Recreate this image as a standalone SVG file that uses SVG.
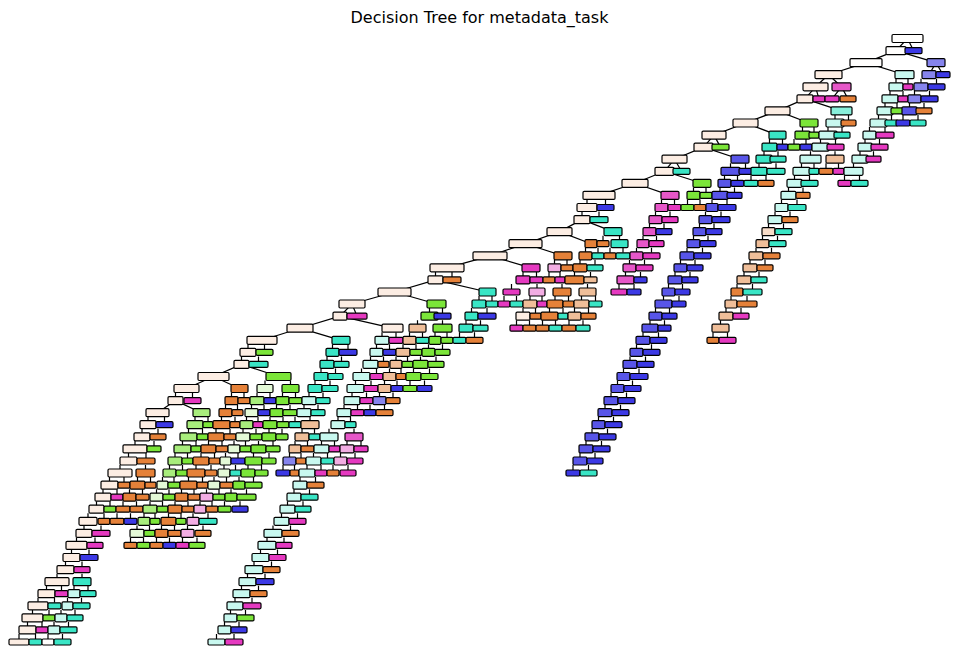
<svg xmlns="http://www.w3.org/2000/svg" width="959" height="658" viewBox="0 0 959 658">
<style>
#tree rect{stroke:#000;stroke-width:1.2px;rx:1.2px;ry:1.2px}
#edges path{stroke:#000;stroke-width:1.2px;fill:none}
.title{font-family:"DejaVu Sans","Liberation Sans",sans-serif;font-size:16px;fill:#000}
.w{fill:#fffefd}.o3{fill:#fcede3}.o2{fill:#f7dcc8}.o1{fill:#efbe99}.o{fill:#e58139}
.g{fill:#7be539}.g1{fill:#a8ed7c}.g2{fill:#e4f9d7}
.c{fill:#39e5c5}.c1{fill:#88efdb}.c2{fill:#c8f8ef}
.b{fill:#3c39e5}.b1{fill:#5855e8}.b2{fill:#8684ed}
.m{fill:#e539c0}.m1{fill:#e657c8}.m2{fill:#f2ade3}
</style>
<rect width="959" height="658" fill="#fff"/>
<text class="title" x="479.5" y="22.5" text-anchor="middle">Decision Tree for metadata_task</text>
<g id="edges">
<path d="M907.5 38.5L896 50.6M907.5 38.5L913.5 50.6M896 50.6L866 62.6M896 50.6L936 62.6M866 62.6L828.5 74.7M866 62.6L904.5 74.7M936 62.6L929 74.7M936 62.6L943 74.7M828.5 74.7L815.5 86.8M828.5 74.7L841.5 86.8M815.5 86.8L805 98.9M815.5 86.8L819 98.9M841.5 86.8L832 98.9M841.5 86.8L848 98.9M805 98.9L777.5 110.9M805 98.9L841.5 110.9M777.5 110.9L745.5 123M777.5 110.9L809 123M745.5 123L714 135.1M745.5 123L777.5 135.1M714 135.1L703.5 147.1M714 135.1L720.5 147.1M703.5 147.1L674.5 159.2M703.5 147.1L740 159.2M674.5 159.2L664.5 171.3M674.5 159.2L681.5 171.3M664.5 171.3L635 183.3M664.5 171.3L702 183.3M635 183.3L599 195.4M635 183.3L670 195.4M582 219.6L559.5 231.6M582 219.6L613 231.6M559.5 231.6L525.5 243.7M559.5 231.6L591 243.7M525.5 243.7L490 255.8M525.5 243.7L563 255.8M490 255.8L447 267.8M490 255.8L531 267.8M435.5 279.9L394.5 292M435.5 279.9L487.5 292M394.5 292L352 304M394.5 292L436.5 304M352 304L340 316.1M352 304L357 316.1M340 316.1L300 328.2M340 316.1L392.5 328.2M300 328.2L262 340.3M300 328.2L341 340.3M241.5 364.4L213.5 376.5M241.5 364.4L278.5 376.5M213.5 376.5L186.5 388.5M213.5 376.5L239.5 388.5M175.5 400.6L157.5 412.7M175.5 400.6L201.5 412.7"/>
<path d="M896 83.8v-5M908 83.8v-5M921 83.8v-5M936.5 83.8v-5
M890 95.9v-5M903 95.9v-5M914.5 95.9v-5M929.5 95.9v-5
M885 107.9v-5M897 107.9v-5M909.5 107.9v-5M924 107.9v-5
M835 120v-5M848.5 120v-5M878.5 120v-5M891.5 120v-5M903 120v-5M918 120v-5
M802.5 132.1v-5M814 132.1v-5M828 132.1v-5M842 132.1v-5M869.5 132.1v-5M885 132.1v-5
M769.5 144.1v-5M782.5 144.1v-5M794 144.1v-5M806 144.1v-5M820.5 144.1v-5M835.5 144.1v-5M865 144.1v-5M879.5 144.1v-5
M764 156.2v-5M778 156.2v-5M810.5 156.2v-5M835 156.2v-5M860 156.2v-5M873.5 156.2v-5
M730.5 168.3v-5M745.5 168.3v-5M759 168.3v-5M776 168.3v-5M801.5 168.3v-5M814 168.3v-5M826 168.3v-5M838.5 168.3v-5M853.5 168.3v-5
M724.5 180.3v-5M737.5 180.3v-5M751 180.3v-5M766 180.3v-5M794.5 180.3v-5M809.5 180.3v-5M844.5 180.3v-5M859.5 180.3v-5
M693.5 192.4v-5M706 192.4v-5M720 192.4v-5M734.5 192.4v-5M788.5 192.4v-5M803 192.4v-5
M587 204.5v-5M605.5 204.5v-5M661.5 204.5v-5M674.5 204.5v-5M687.5 204.5v-5M700 204.5v-5M712 204.5v-5M727 204.5v-5M781.5 204.5v-5M797 204.5v-5
M582 216.6v-5M599 216.6v-5M655.5 216.6v-5M670 216.6v-5M705.5 216.6v-5M721 216.6v-5M775 216.6v-5M790 216.6v-5
M649.5 228.6v-5M664 228.6v-5M699.5 228.6v-5M714 228.6v-5M768.5 228.6v-5M783.5 228.6v-5
M603 240.7v-5M619.5 240.7v-5M643 240.7v-5M656.5 240.7v-5M693.5 240.7v-5M708 240.7v-5M762.5 240.7v-5M777.5 240.7v-5
M585.5 252.8v-5M598 252.8v-5M610 252.8v-5M623 252.8v-5M636.5 252.8v-5M651.5 252.8v-5M687 252.8v-5M702.5 252.8v-5M756 252.8v-5M771.5 252.8v-5
M554.5 264.8v-5M567 264.8v-5M580 264.8v-5M595 264.8v-5M629.5 264.8v-5M644.5 264.8v-5M680.5 264.8v-5M695 264.8v-5M750 264.8v-5M765 264.8v-5
M435.5 276.9v-5M452 276.9v-5M523 276.9v-5M536.5 276.9v-5M549 276.9v-5M560 276.9v-5M574.5 276.9v-5M590.5 276.9v-5M625.5 276.9v-5M640.5 276.9v-5M675 276.9v-5M690 276.9v-5M744 276.9v-5M759 276.9v-5
M511.5 289v-5M537 289v-5M562 289v-5M587.5 289v-5M619 289v-5M634 289v-5M668.5 289v-5M682.5 289v-5M737 289v-5M752.5 289v-5
M479 301v-5M492 301v-5M504 301v-5M516.5 301v-5M530 301v-5M542 301v-5M555 301v-5M568.5 301v-5M581.5 301v-5M595.5 301v-5M663.5 301v-5M679 301v-5M731 301v-5M747 301v-5
M429.5 313.1v-5M442.5 313.1v-5M471.5 313.1v-5M487 313.1v-5M523 313.1v-5M535.5 313.1v-5M549.5 313.1v-5M563 313.1v-5M574.5 313.1v-5M588.5 313.1v-5M655.5 313.1v-5M669.5 313.1v-5M726 313.1v-5M741 313.1v-5
M417.5 325.2v-5M442.5 325.2v-5M466 325.2v-5M480.5 325.2v-5M516.5 325.2v-5M529.5 325.2v-5M542.5 325.2v-5M555.5 325.2v-5M569 325.2v-5M583 325.2v-5M650 325.2v-5M664.5 325.2v-5M720.5 325.2v-5
M382 337.3v-5M396 337.3v-5M409.5 337.3v-5M422.5 337.3v-5M435 337.3v-5M447 337.3v-5M459.5 337.3v-5M474.5 337.3v-5M643 337.3v-5M658.5 337.3v-5M713 337.3v-5M727.5 337.3v-5
M248 349.3v-5M264.5 349.3v-5M332.5 349.3v-5M348 349.3v-5M376.5 349.3v-5M389.5 349.3v-5M403 349.3v-5M416 349.3v-5M428.5 349.3v-5M442.5 349.3v-5M636.5 349.3v-5M651.5 349.3v-5
M241.5 361.4v-5M258.5 361.4v-5M327 361.4v-5M341.5 361.4v-5M370.5 361.4v-5M383.5 361.4v-5M396 361.4v-5M407.5 361.4v-5M420.5 361.4v-5M436 361.4v-5M630 361.4v-5M645.5 361.4v-5
M321 373.5v-5M335.5 373.5v-5M361.5 373.5v-5M376.5 373.5v-5M389.5 373.5v-5M401 373.5v-5M413.5 373.5v-5M429.5 373.5v-5M623.5 373.5v-5M639 373.5v-5
M265 385.5v-5M290.5 385.5v-5M315 385.5v-5M330 385.5v-5M355.5 385.5v-5M371 385.5v-5M384.5 385.5v-5M397 385.5v-5M410 385.5v-5M424.5 385.5v-5M617.5 385.5v-5M632.5 385.5v-5
M175.5 397.6v-5M192.5 397.6v-5M231.5 397.6v-5M244 397.6v-5M257 397.6v-5M270 397.6v-5M282.5 397.6v-5M295.5 397.6v-5M309 397.6v-5M323 397.6v-5M352 397.6v-5M366.5 397.6v-5M379.5 397.6v-5M393 397.6v-5M611 397.6v-5M626.5 397.6v-5
M225.5 409.7v-5M237.5 409.7v-5M251.5 409.7v-5M264 409.7v-5M276.5 409.7v-5M290 409.7v-5M304 409.7v-5M318 409.7v-5M344 409.7v-5M357.5 409.7v-5M370 409.7v-5M384.5 409.7v-5M605 409.7v-5M620.5 409.7v-5
M148 421.7v-5M164.5 421.7v-5M195 421.7v-5M208 421.7v-5M221.5 421.7v-5M235 421.7v-5M246.5 421.7v-5M258 421.7v-5M270 421.7v-5M283 421.7v-5M295 421.7v-5M310 421.7v-5M338 421.7v-5M350.5 421.7v-5M598.5 421.7v-5M613.5 421.7v-5
M142 433.8v-5M158 433.8v-5M188.5 433.8v-5M202.5 433.8v-5M216 433.8v-5M230 433.8v-5M243 433.8v-5M256 433.8v-5M269 433.8v-5M282 433.8v-5M302 433.8v-5M314.5 433.8v-5M329 433.8v-5M354 433.8v-5M592 433.8v-5M607.5 433.8v-5
M135 445.9v-5M154 445.9v-5M182.5 445.9v-5M196 445.9v-5M208.5 445.9v-5M222 445.9v-5M234 445.9v-5M245.5 445.9v-5M258.5 445.9v-5M273 445.9v-5M295 445.9v-5M307.5 445.9v-5M321.5 445.9v-5M334.5 445.9v-5M347 445.9v-5M361 445.9v-5M586 445.9v-5M601.5 445.9v-5
M128.5 458v-5M146 458v-5M175 458v-5M187.5 458v-5M201 458v-5M214.5 458v-5M225.5 458v-5M238 458v-5M253.5 458v-5M269 458v-5M289.5 458v-5M301 458v-5M313.5 458v-5M327.5 458v-5M340.5 458v-5M355 458v-5M580 458v-5M595 458v-5
M120 470v-5M145.5 470v-5M169.5 470v-5M182.5 470v-5M196 470v-5M211 470v-5M224 470v-5M235.5 470v-5M248 470v-5M261.5 470v-5M283 470v-5M294.5 470v-5M307 470v-5M321 470v-5M333 470v-5M348 470v-5M573 470v-5M588.5 470v-5
M109.5 482.1v-5M124 482.1v-5M137.5 482.1v-5M150.5 482.1v-5M162.5 482.1v-5M174 482.1v-5M188.5 482.1v-5M202.5 482.1v-5M214 482.1v-5M226.5 482.1v-5M239 482.1v-5M253.5 482.1v-5M300 482.1v-5M315.5 482.1v-5
M103 494.2v-5M117 494.2v-5M129.5 494.2v-5M142.5 494.2v-5M156.5 494.2v-5M169 494.2v-5M181.5 494.2v-5M194 494.2v-5M206.5 494.2v-5M219 494.2v-5M231 494.2v-5M246.5 494.2v-5M294 494.2v-5M309.5 494.2v-5
M96.5 506.2v-5M110 506.2v-5M123 506.2v-5M136.5 506.2v-5M150 506.2v-5M162.5 506.2v-5M175 506.2v-5M188 506.2v-5M200 506.2v-5M212 506.2v-5M224.5 506.2v-5M240 506.2v-5M287.5 506.2v-5M303 506.2v-5
M88 518.3v-5M104 518.3v-5M117 518.3v-5M130.5 518.3v-5M144 518.3v-5M155 518.3v-5M168.5 518.3v-5M181 518.3v-5M193 518.3v-5M208 518.3v-5M281.5 518.3v-5M297.5 518.3v-5
M84 530.4v-5M101 530.4v-5M137 530.4v-5M149.5 530.4v-5M161.5 530.4v-5M174.5 530.4v-5M187.5 530.4v-5M203 530.4v-5M273 530.4v-5M290.5 530.4v-5
M76.5 542.4v-5M95 542.4v-5M130.5 542.4v-5M143.5 542.4v-5M156.5 542.4v-5M169.5 542.4v-5M182.5 542.4v-5M197 542.4v-5M267 542.4v-5M284 542.4v-5
M71.5 554.5v-5M89 554.5v-5M260.5 554.5v-5M277.5 554.5v-5
M65.5 566.6v-5M82 566.6v-5M254 566.6v-5M271.5 566.6v-5
M57 578.7v-5M82 578.7v-5M247.5 578.7v-5M265 578.7v-5
M46.5 590.7v-5M61.5 590.7v-5M74 590.7v-5M88 590.7v-5M241.5 590.7v-5M258.5 590.7v-5
M38 602.8v-5M54.5 602.8v-5M67.5 602.8v-5M81.5 602.8v-5M235 602.8v-5M252 602.8v-5
M32.5 614.9v-5M49 614.9v-5M61 614.9v-5M75 614.9v-5M230.5 614.9v-5M245.5 614.9v-5
M27.5 626.9v-5M42 626.9v-5M54 626.9v-5M68.5 626.9v-5M224.5 626.9v-5M239 626.9v-5
M19 639v-5M35.5 639v-5M48 639v-5M62.5 639v-5M216.5 639v-5M234 639v-5"/>
</g>
<g id="tree">
<g transform="translate(0 38.5)">
<g id="n0_1"><rect class="w" x="892" y="-4" width="31" height="8"/></g>
</g>
<g transform="translate(0 50.6)">
<g id="n1_1"><rect class="w" x="886" y="-4" width="20" height="8"/></g>
<g id="n1_2"><rect class="b" x="905" y="-3" width="17" height="6"/></g>
</g>
<g transform="translate(0 62.6)">
<g id="n2_1"><rect class="w" x="850" y="-4" width="32" height="8"/></g>
<g id="n2_2"><rect class="b2" x="927" y="-4" width="18" height="8"/></g>
</g>
<g transform="translate(0 74.7)">
<g id="n3_1"><rect class="o3" x="815" y="-4" width="27" height="8"/></g>
<g id="n3_2"><rect class="c2" x="895" y="-4" width="19" height="8"/></g>
<g id="n3_3"><rect class="b2" x="922" y="-4" width="14" height="8"/></g>
<g id="n3_4"><rect class="b" x="936" y="-3" width="14" height="6"/></g>
</g>
<g transform="translate(0 86.8)">
<g id="n4_1"><rect class="o3" x="803" y="-4" width="25" height="8"/></g>
<g id="n4_2"><rect class="m1" x="832" y="-4" width="19" height="8"/></g>
<g id="n4_3"><rect class="c2" x="889" y="-4" width="14" height="8"/></g>
<g id="n4_4"><rect class="m" x="903" y="-3" width="10" height="6"/></g>
<g id="n4_5"><rect class="b2" x="914" y="-4" width="14" height="8"/></g>
<g id="n4_6"><rect class="b" x="928" y="-3" width="17" height="6"/></g>
</g>
<g transform="translate(0 98.9)">
<g id="n5_1"><rect class="o3" x="797" y="-4" width="16" height="8"/></g>
<g id="n5_2"><rect class="m" x="813" y="-3" width="12" height="6"/></g>
<g id="n5_3"><rect class="m" x="825" y="-3" width="14" height="6"/></g>
<g id="n5_4"><rect class="o" x="840" y="-3" width="16" height="6"/></g>
<g id="n5_5"><rect class="c2" x="882" y="-4" width="16" height="8"/></g>
<g id="n5_6"><rect class="m" x="898" y="-3" width="10" height="6"/></g>
<g id="n5_7"><rect class="b2" x="908" y="-4" width="13" height="8"/></g>
<g id="n5_8"><rect class="b" x="921" y="-3" width="17" height="6"/></g>
</g>
<g transform="translate(0 110.9)">
<g id="n6_1"><rect class="o3" x="765" y="-4" width="25" height="8"/></g>
<g id="n6_2"><rect class="c1" x="831" y="-4" width="21" height="8"/></g>
<g id="n6_3"><rect class="c2" x="877" y="-4" width="16" height="8"/></g>
<g id="n6_4"><rect class="g" x="891" y="-3" width="12" height="6"/></g>
<g id="n6_5"><rect class="b1" x="902" y="-4" width="15" height="8"/></g>
<g id="n6_6"><rect class="o" x="916" y="-3" width="16" height="6"/></g>
</g>
<g transform="translate(0 123)">
<g id="n7_1"><rect class="o3" x="733" y="-4" width="25" height="8"/></g>
<g id="n7_2"><rect class="g" x="800" y="-4" width="18" height="8"/></g>
<g id="n7_3"><rect class="c2" x="826" y="-4" width="18" height="8"/></g>
<g id="n7_4"><rect class="o" x="841" y="-3" width="15" height="6"/></g>
<g id="n7_5"><rect class="c2" x="870" y="-4" width="17" height="8"/></g>
<g id="n7_6"><rect class="c" x="885" y="-3" width="13" height="6"/></g>
<g id="n7_7"><rect class="b" x="896" y="-3" width="14" height="6"/></g>
<g id="n7_8"><rect class="c" x="910" y="-3" width="16" height="6"/></g>
</g>
<g transform="translate(0 135.1)">
<g id="n8_1"><rect class="o3" x="702" y="-4" width="24" height="8"/></g>
<g id="n8_2"><rect class="c" x="769" y="-4" width="17" height="8"/></g>
<g id="n8_3"><rect class="g" x="795" y="-4" width="15" height="8"/></g>
<g id="n8_4"><rect class="g" x="809" y="-3" width="10" height="6"/></g>
<g id="n8_5"><rect class="c2" x="819" y="-4" width="18" height="8"/></g>
<g id="n8_6"><rect class="c" x="834" y="-3" width="16" height="6"/></g>
<g id="n8_7"><rect class="c2" x="863" y="-4" width="13" height="8"/></g>
<g id="n8_8"><rect class="m" x="876" y="-3" width="18" height="6"/></g>
</g>
<g transform="translate(0 147.1)">
<g id="n9_1"><rect class="o3" x="694" y="-4" width="19" height="8"/></g>
<g id="n9_2"><rect class="g" x="712" y="-3" width="17" height="6"/></g>
<g id="n9_3"><rect class="c" x="762" y="-4" width="15" height="8"/></g>
<g id="n9_4"><rect class="b" x="777" y="-3" width="11" height="6"/></g>
<g id="n9_5"><rect class="g" x="788" y="-3" width="12" height="6"/></g>
<g id="n9_6"><rect class="b" x="800" y="-3" width="12" height="6"/></g>
<g id="n9_7"><rect class="c2" x="812" y="-4" width="17" height="8"/></g>
<g id="n9_8"><rect class="m" x="827" y="-3" width="17" height="6"/></g>
<g id="n9_9"><rect class="c2" x="858" y="-4" width="14" height="8"/></g>
<g id="n9_10"><rect class="m" x="871" y="-3" width="17" height="6"/></g>
</g>
<g transform="translate(0 159.2)">
<g id="n10_1"><rect class="o3" x="662" y="-4" width="25" height="8"/></g>
<g id="n10_2"><rect class="b1" x="731" y="-4" width="18" height="8"/></g>
<g id="n10_3"><rect class="c" x="756" y="-4" width="16" height="8"/></g>
<g id="n10_4"><rect class="c" x="770" y="-3" width="16" height="6"/></g>
<g id="n10_5"><rect class="c2" x="800" y="-4" width="21" height="8"/></g>
<g id="n10_6"><rect class="o1" x="826" y="-4" width="18" height="8"/></g>
<g id="n10_7"><rect class="c2" x="852" y="-4" width="16" height="8"/></g>
<g id="n10_8"><rect class="m" x="866" y="-3" width="15" height="6"/></g>
</g>
<g transform="translate(0 171.3)">
<g id="n11_1"><rect class="o3" x="655" y="-4" width="19" height="8"/></g>
<g id="n11_2"><rect class="c" x="673" y="-3" width="17" height="6"/></g>
<g id="n11_3"><rect class="b1" x="721" y="-4" width="19" height="8"/></g>
<g id="n11_4"><rect class="b" x="739" y="-3" width="13" height="6"/></g>
<g id="n11_5"><rect class="c" x="751" y="-4" width="16" height="8"/></g>
<g id="n11_6"><rect class="c" x="767" y="-3" width="18" height="6"/></g>
<g id="n11_7"><rect class="c2" x="793" y="-4" width="17" height="8"/></g>
<g id="n11_8"><rect class="c" x="809" y="-3" width="10" height="6"/></g>
<g id="n11_9"><rect class="o" x="819" y="-3" width="14" height="6"/></g>
<g id="n11_10"><rect class="m" x="833" y="-3" width="11" height="6"/></g>
<g id="n11_11"><rect class="c2" x="844" y="-4" width="19" height="8"/></g>
</g>
<g transform="translate(0 183.3)">
<g id="n12_1"><rect class="o3" x="622" y="-4" width="26" height="8"/></g>
<g id="n12_2"><rect class="g" x="693" y="-4" width="18" height="8"/></g>
<g id="n12_3"><rect class="b1" x="718" y="-4" width="13" height="8"/></g>
<g id="n12_4"><rect class="b" x="731" y="-3" width="13" height="6"/></g>
<g id="n12_5"><rect class="c" x="744" y="-3" width="14" height="6"/></g>
<g id="n12_6"><rect class="o" x="758" y="-3" width="16" height="6"/></g>
<g id="n12_7"><rect class="c2" x="787" y="-4" width="15" height="8"/></g>
<g id="n12_8"><rect class="c" x="801" y="-3" width="17" height="6"/></g>
<g id="n12_9"><rect class="m" x="838" y="-3" width="13" height="6"/></g>
<g id="n12_10"><rect class="c" x="851" y="-3" width="17" height="6"/></g>
</g>
<g transform="translate(0 195.4)">
<g id="n13_1"><rect class="o3" x="583" y="-4" width="32" height="8"/></g>
<g id="n13_2"><rect class="m1" x="661" y="-4" width="18" height="8"/></g>
<g id="n13_3"><rect class="g" x="687" y="-4" width="13" height="8"/></g>
<g id="n13_4"><rect class="g" x="700" y="-3" width="12" height="6"/></g>
<g id="n13_5"><rect class="b1" x="712" y="-4" width="16" height="8"/></g>
<g id="n13_6"><rect class="b" x="727" y="-3" width="15" height="6"/></g>
<g id="n13_7"><rect class="c2" x="781" y="-4" width="15" height="8"/></g>
<g id="n13_8"><rect class="o" x="796" y="-3" width="14" height="6"/></g>
</g>
<g transform="translate(0 207.5)">
<g id="n14_1"><rect class="o3" x="577" y="-4" width="20" height="8"/></g>
<g id="n14_2"><rect class="b" x="597" y="-3" width="17" height="6"/></g>
<g id="n14_3"><rect class="m1" x="655" y="-4" width="13" height="8"/></g>
<g id="n14_4"><rect class="m" x="668" y="-3" width="13" height="6"/></g>
<g id="n14_5"><rect class="g" x="681" y="-3" width="13" height="6"/></g>
<g id="n14_6"><rect class="o" x="694" y="-3" width="12" height="6"/></g>
<g id="n14_7"><rect class="b1" x="706" y="-4" width="12" height="8"/></g>
<g id="n14_8"><rect class="b" x="718" y="-3" width="18" height="6"/></g>
<g id="n14_9"><rect class="c2" x="775" y="-4" width="13" height="8"/></g>
<g id="n14_10"><rect class="c" x="788" y="-3" width="18" height="6"/></g>
</g>
<g transform="translate(0 219.6)">
<g id="n15_1"><rect class="o3" x="574" y="-4" width="16" height="8"/></g>
<g id="n15_2"><rect class="c" x="590" y="-3" width="18" height="6"/></g>
<g id="n15_3"><rect class="m1" x="649" y="-4" width="13" height="8"/></g>
<g id="n15_4"><rect class="m" x="662" y="-3" width="16" height="6"/></g>
<g id="n15_5"><rect class="b1" x="699" y="-4" width="13" height="8"/></g>
<g id="n15_6"><rect class="b" x="712" y="-3" width="18" height="6"/></g>
<g id="n15_7"><rect class="c2" x="768" y="-4" width="14" height="8"/></g>
<g id="n15_8"><rect class="o" x="782" y="-3" width="16" height="6"/></g>
</g>
<g transform="translate(0 231.6)">
<g id="n16_1"><rect class="o3" x="547" y="-4" width="25" height="8"/></g>
<g id="n16_2"><rect class="c" x="604" y="-4" width="18" height="8"/></g>
<g id="n16_3"><rect class="m1" x="643" y="-4" width="13" height="8"/></g>
<g id="n16_4"><rect class="b" x="656" y="-3" width="16" height="6"/></g>
<g id="n16_5"><rect class="b1" x="693" y="-4" width="13" height="8"/></g>
<g id="n16_6"><rect class="b" x="706" y="-3" width="16" height="6"/></g>
<g id="n16_7"><rect class="o2" x="762" y="-4" width="13" height="8"/></g>
<g id="n16_8"><rect class="c" x="775" y="-3" width="17" height="6"/></g>
</g>
<g transform="translate(0 243.7)">
<g id="n17_1"><rect class="o3" x="509" y="-4" width="33" height="8"/></g>
<g id="n17_2"><rect class="o" x="585" y="-4" width="12" height="8"/></g>
<g id="n17_3"><rect class="o" x="597" y="-3" width="12" height="6"/></g>
<g id="n17_4"><rect class="c" x="611" y="-4" width="17" height="8"/></g>
<g id="n17_5"><rect class="m1" x="637" y="-4" width="12" height="8"/></g>
<g id="n17_6"><rect class="m" x="649" y="-3" width="15" height="6"/></g>
<g id="n17_7"><rect class="b1" x="687" y="-4" width="13" height="8"/></g>
<g id="n17_8"><rect class="b" x="700" y="-3" width="16" height="6"/></g>
<g id="n17_9"><rect class="o1" x="756" y="-4" width="13" height="8"/></g>
<g id="n17_10"><rect class="c" x="769" y="-3" width="17" height="6"/></g>
</g>
<g transform="translate(0 255.8)">
<g id="n18_1"><rect class="o3" x="473" y="-4" width="34" height="8"/></g>
<g id="n18_2"><rect class="o" x="554" y="-4" width="18" height="8"/></g>
<g id="n18_3"><rect class="o" x="579" y="-4" width="13" height="8"/></g>
<g id="n18_4"><rect class="c" x="592" y="-3" width="12" height="6"/></g>
<g id="n18_5"><rect class="o" x="604" y="-3" width="12" height="6"/></g>
<g id="n18_6"><rect class="c" x="616" y="-3" width="14" height="6"/></g>
<g id="n18_7"><rect class="m1" x="630" y="-4" width="13" height="8"/></g>
<g id="n18_8"><rect class="m" x="643" y="-3" width="17" height="6"/></g>
<g id="n18_9"><rect class="b1" x="680" y="-4" width="14" height="8"/></g>
<g id="n18_10"><rect class="b" x="694" y="-3" width="17" height="6"/></g>
<g id="n18_11"><rect class="o1" x="749" y="-4" width="14" height="8"/></g>
<g id="n18_12"><rect class="o" x="763" y="-3" width="17" height="6"/></g>
</g>
<g transform="translate(0 267.8)">
<g id="n19_1"><rect class="o3" x="430" y="-4" width="34" height="8"/></g>
<g id="n19_2"><rect class="m" x="522" y="-4" width="18" height="8"/></g>
<g id="n19_3"><rect class="m2" x="548" y="-4" width="13" height="8"/></g>
<g id="n19_4"><rect class="o" x="561" y="-3" width="12" height="6"/></g>
<g id="n19_5"><rect class="o" x="573" y="-4" width="14" height="8"/></g>
<g id="n19_6"><rect class="c" x="587" y="-3" width="16" height="6"/></g>
<g id="n19_7"><rect class="m1" x="623" y="-4" width="13" height="8"/></g>
<g id="n19_8"><rect class="m" x="636" y="-3" width="17" height="6"/></g>
<g id="n19_9"><rect class="b1" x="674" y="-4" width="13" height="8"/></g>
<g id="n19_10"><rect class="b" x="687" y="-3" width="16" height="6"/></g>
<g id="n19_11"><rect class="o1" x="743" y="-4" width="14" height="8"/></g>
<g id="n19_12"><rect class="o" x="757" y="-3" width="16" height="6"/></g>
</g>
<g transform="translate(0 279.9)">
<g id="n20_1"><rect class="o3" x="428" y="-4" width="15" height="8"/></g>
<g id="n20_2"><rect class="o" x="443" y="-3" width="18" height="6"/></g>
<g id="n20_3"><rect class="m" x="516" y="-4" width="14" height="8"/></g>
<g id="n20_4"><rect class="m" x="530" y="-3" width="13" height="6"/></g>
<g id="n20_5"><rect class="o" x="543" y="-3" width="12" height="6"/></g>
<g id="n20_6"><rect class="m" x="555" y="-3" width="10" height="6"/></g>
<g id="n20_7"><rect class="o" x="565" y="-4" width="19" height="8"/></g>
<g id="n20_8"><rect class="o1" x="584" y="-3" width="13" height="6"/></g>
<g id="n20_9"><rect class="m1" x="617" y="-4" width="17" height="8"/></g>
<g id="n20_10"><rect class="b" x="634" y="-3" width="13" height="6"/></g>
<g id="n20_11"><rect class="b1" x="668" y="-4" width="14" height="8"/></g>
<g id="n20_12"><rect class="b" x="682" y="-3" width="16" height="6"/></g>
<g id="n20_13"><rect class="o1" x="737" y="-4" width="14" height="8"/></g>
<g id="n20_14"><rect class="c" x="751" y="-3" width="16" height="6"/></g>
</g>
<g transform="translate(0 292)">
<g id="n21_1"><rect class="o3" x="378" y="-4" width="33" height="8"/></g>
<g id="n21_2"><rect class="c" x="479" y="-4" width="17" height="8"/></g>
<g id="n21_3"><rect class="m" x="503" y="-3" width="17" height="6"/></g>
<g id="n21_4"><rect class="m2" x="529" y="-4" width="16" height="8"/></g>
<g id="n21_5"><rect class="o" x="553" y="-4" width="18" height="8"/></g>
<g id="n21_6"><rect class="o1" x="579" y="-4" width="17" height="8"/></g>
<g id="n21_7"><rect class="m" x="611" y="-3" width="16" height="6"/></g>
<g id="n21_8"><rect class="b" x="627" y="-3" width="14" height="6"/></g>
<g id="n21_9"><rect class="b1" x="662" y="-4" width="13" height="8"/></g>
<g id="n21_10"><rect class="b" x="675" y="-3" width="15" height="6"/></g>
<g id="n21_11"><rect class="o" x="731" y="-4" width="12" height="8"/></g>
<g id="n21_12"><rect class="c" x="743" y="-3" width="19" height="6"/></g>
</g>
<g transform="translate(0 304)">
<g id="n22_1"><rect class="o3" x="339" y="-4" width="26" height="8"/></g>
<g id="n22_2"><rect class="g" x="427" y="-4" width="19" height="8"/></g>
<g id="n22_3"><rect class="c" x="472" y="-4" width="14" height="8"/></g>
<g id="n22_4"><rect class="c" x="486" y="-3" width="12" height="6"/></g>
<g id="n22_5"><rect class="m" x="498" y="-3" width="12" height="6"/></g>
<g id="n22_6"><rect class="c" x="510" y="-3" width="13" height="6"/></g>
<g id="n22_7"><rect class="o1" x="523" y="-4" width="14" height="8"/></g>
<g id="n22_8"><rect class="m" x="537" y="-3" width="10" height="6"/></g>
<g id="n22_9"><rect class="o" x="547" y="-4" width="16" height="8"/></g>
<g id="n22_10"><rect class="o" x="563" y="-3" width="11" height="6"/></g>
<g id="n22_11"><rect class="o1" x="574" y="-4" width="15" height="8"/></g>
<g id="n22_12"><rect class="c" x="589" y="-3" width="13" height="6"/></g>
<g id="n22_13"><rect class="b1" x="655" y="-4" width="17" height="8"/></g>
<g id="n22_14"><rect class="b" x="672" y="-3" width="14" height="6"/></g>
<g id="n22_15"><rect class="o1" x="725" y="-4" width="12" height="8"/></g>
<g id="n22_16"><rect class="o" x="737" y="-3" width="20" height="6"/></g>
</g>
<g transform="translate(0 316.1)">
<g id="n23_1"><rect class="o3" x="333" y="-4" width="14" height="8"/></g>
<g id="n23_2"><rect class="m" x="347" y="-3" width="20" height="6"/></g>
<g id="n23_3"><rect class="g" x="421" y="-4" width="17" height="8"/></g>
<g id="n23_4"><rect class="b" x="434" y="-3" width="17" height="6"/></g>
<g id="n23_5"><rect class="c" x="465" y="-4" width="13" height="8"/></g>
<g id="n23_6"><rect class="b" x="478" y="-3" width="18" height="6"/></g>
<g id="n23_7"><rect class="o3" x="516" y="-4" width="14" height="8"/></g>
<g id="n23_8"><rect class="o" x="530" y="-3" width="11" height="6"/></g>
<g id="n23_9"><rect class="o" x="541" y="-4" width="17" height="8"/></g>
<g id="n23_10"><rect class="c" x="558" y="-3" width="10" height="6"/></g>
<g id="n23_11"><rect class="o1" x="568" y="-4" width="13" height="8"/></g>
<g id="n23_12"><rect class="o" x="581" y="-3" width="15" height="6"/></g>
<g id="n23_13"><rect class="b1" x="649" y="-4" width="13" height="8"/></g>
<g id="n23_14"><rect class="b" x="662" y="-3" width="15" height="6"/></g>
<g id="n23_15"><rect class="o1" x="719" y="-4" width="14" height="8"/></g>
<g id="n23_16"><rect class="m" x="733" y="-3" width="16" height="6"/></g>
</g>
<g transform="translate(0 328.2)">
<g id="n24_1"><rect class="o3" x="287" y="-4" width="26" height="8"/></g>
<g id="n24_2"><rect class="o3" x="382" y="-4" width="21" height="8"/></g>
<g id="n24_3"><rect class="o1" x="409" y="-4" width="17" height="8"/></g>
<g id="n24_4"><rect class="g" x="433" y="-4" width="19" height="8"/></g>
<g id="n24_5"><rect class="c" x="459" y="-4" width="14" height="8"/></g>
<g id="n24_6"><rect class="c" x="473" y="-3" width="15" height="6"/></g>
<g id="n24_7"><rect class="m" x="510" y="-3" width="13" height="6"/></g>
<g id="n24_8"><rect class="o" x="523" y="-3" width="13" height="6"/></g>
<g id="n24_9"><rect class="o" x="536" y="-3" width="13" height="6"/></g>
<g id="n24_10"><rect class="c" x="549" y="-3" width="13" height="6"/></g>
<g id="n24_11"><rect class="o" x="562" y="-3" width="14" height="6"/></g>
<g id="n24_12"><rect class="c" x="576" y="-3" width="14" height="6"/></g>
<g id="n24_13"><rect class="b1" x="642" y="-4" width="16" height="8"/></g>
<g id="n24_14"><rect class="b" x="658" y="-3" width="13" height="6"/></g>
<g id="n24_15"><rect class="o1" x="712" y="-4" width="17" height="8"/></g>
</g>
<g transform="translate(0 340.3)">
<g id="n25_1"><rect class="o3" x="247" y="-4" width="30" height="8"/></g>
<g id="n25_2"><rect class="c" x="332" y="-4" width="18" height="8"/></g>
<g id="n25_3"><rect class="c2" x="375" y="-4" width="14" height="8"/></g>
<g id="n25_4"><rect class="m" x="389" y="-3" width="14" height="6"/></g>
<g id="n25_5"><rect class="o1" x="403" y="-4" width="13" height="8"/></g>
<g id="n25_6"><rect class="c" x="416" y="-3" width="13" height="6"/></g>
<g id="n25_7"><rect class="g" x="429" y="-4" width="12" height="8"/></g>
<g id="n25_8"><rect class="g" x="441" y="-3" width="12" height="6"/></g>
<g id="n25_9"><rect class="c" x="453" y="-3" width="13" height="6"/></g>
<g id="n25_10"><rect class="o" x="466" y="-3" width="17" height="6"/></g>
<g id="n25_11"><rect class="b1" x="636" y="-4" width="14" height="8"/></g>
<g id="n25_12"><rect class="b" x="650" y="-3" width="17" height="6"/></g>
<g id="n25_13"><rect class="o" x="707" y="-3" width="12" height="6"/></g>
<g id="n25_14"><rect class="m" x="719" y="-3" width="17" height="6"/></g>
</g>
<g transform="translate(0 352.3)">
<g id="n26_1"><rect class="o3" x="240" y="-4" width="16" height="8"/></g>
<g id="n26_2"><rect class="g" x="256" y="-3" width="17" height="6"/></g>
<g id="n26_3"><rect class="c" x="326" y="-4" width="13" height="8"/></g>
<g id="n26_4"><rect class="b" x="339" y="-3" width="18" height="6"/></g>
<g id="n26_5"><rect class="c2" x="370" y="-4" width="13" height="8"/></g>
<g id="n26_6"><rect class="b" x="383" y="-3" width="13" height="6"/></g>
<g id="n26_7"><rect class="o1" x="396" y="-4" width="14" height="8"/></g>
<g id="n26_8"><rect class="g" x="410" y="-3" width="12" height="6"/></g>
<g id="n26_9"><rect class="g" x="422" y="-4" width="13" height="8"/></g>
<g id="n26_10"><rect class="g" x="435" y="-3" width="15" height="6"/></g>
<g id="n26_11"><rect class="b1" x="630" y="-4" width="13" height="8"/></g>
<g id="n26_12"><rect class="b" x="643" y="-3" width="17" height="6"/></g>
</g>
<g transform="translate(0 364.4)">
<g id="n27_1"><rect class="o3" x="234" y="-4" width="15" height="8"/></g>
<g id="n27_2"><rect class="c" x="249" y="-3" width="19" height="6"/></g>
<g id="n27_3"><rect class="c" x="320" y="-4" width="14" height="8"/></g>
<g id="n27_4"><rect class="c" x="334" y="-3" width="15" height="6"/></g>
<g id="n27_5"><rect class="c2" x="363" y="-4" width="15" height="8"/></g>
<g id="n27_6"><rect class="o" x="378" y="-3" width="11" height="6"/></g>
<g id="n27_7"><rect class="o1" x="390" y="-4" width="12" height="8"/></g>
<g id="n27_8"><rect class="g" x="402" y="-3" width="11" height="6"/></g>
<g id="n27_9"><rect class="g" x="413" y="-4" width="15" height="8"/></g>
<g id="n27_10"><rect class="g" x="428" y="-3" width="16" height="6"/></g>
<g id="n27_11"><rect class="b1" x="623" y="-4" width="14" height="8"/></g>
<g id="n27_12"><rect class="b" x="637" y="-3" width="17" height="6"/></g>
</g>
<g transform="translate(0 376.5)">
<g id="n28_1"><rect class="o3" x="198" y="-4" width="31" height="8"/></g>
<g id="n28_2"><rect class="g" x="266" y="-4" width="25" height="8"/></g>
<g id="n28_3"><rect class="c" x="314" y="-4" width="14" height="8"/></g>
<g id="n28_4"><rect class="c" x="328" y="-3" width="15" height="6"/></g>
<g id="n28_5"><rect class="c2" x="353" y="-4" width="17" height="8"/></g>
<g id="n28_6"><rect class="m" x="370" y="-3" width="13" height="6"/></g>
<g id="n28_7"><rect class="o1" x="383" y="-4" width="13" height="8"/></g>
<g id="n28_8"><rect class="o" x="396" y="-3" width="10" height="6"/></g>
<g id="n28_9"><rect class="g" x="406" y="-4" width="15" height="8"/></g>
<g id="n28_10"><rect class="g" x="421" y="-3" width="17" height="6"/></g>
<g id="n28_11"><rect class="b1" x="617" y="-4" width="13" height="8"/></g>
<g id="n28_12"><rect class="b" x="630" y="-3" width="18" height="6"/></g>
</g>
<g transform="translate(0 388.5)">
<g id="n29_1"><rect class="o3" x="174" y="-4" width="25" height="8"/></g>
<g id="n29_2"><rect class="o" x="231" y="-4" width="17" height="8"/></g>
<g id="n29_3"><rect class="g2" x="257" y="-4" width="16" height="8"/></g>
<g id="n29_4"><rect class="g" x="282" y="-4" width="17" height="8"/></g>
<g id="n29_5"><rect class="c" x="308" y="-4" width="14" height="8"/></g>
<g id="n29_6"><rect class="c" x="322" y="-3" width="16" height="6"/></g>
<g id="n29_7"><rect class="c2" x="347" y="-4" width="17" height="8"/></g>
<g id="n29_8"><rect class="m" x="364" y="-3" width="14" height="6"/></g>
<g id="n29_9"><rect class="o1" x="378" y="-4" width="13" height="8"/></g>
<g id="n29_10"><rect class="b" x="391" y="-3" width="12" height="6"/></g>
<g id="n29_11"><rect class="g" x="403" y="-3" width="14" height="6"/></g>
<g id="n29_12"><rect class="b" x="417" y="-3" width="15" height="6"/></g>
<g id="n29_13"><rect class="b1" x="611" y="-4" width="13" height="8"/></g>
<g id="n29_14"><rect class="b" x="624" y="-3" width="17" height="6"/></g>
</g>
<g transform="translate(0 400.6)">
<g id="n30_1"><rect class="o3" x="168" y="-4" width="15" height="8"/></g>
<g id="n30_2"><rect class="m" x="184" y="-3" width="17" height="6"/></g>
<g id="n30_3"><rect class="o" x="225" y="-4" width="13" height="8"/></g>
<g id="n30_4"><rect class="o" x="238" y="-3" width="12" height="6"/></g>
<g id="n30_5"><rect class="g1" x="250" y="-4" width="14" height="8"/></g>
<g id="n30_6"><rect class="b" x="264" y="-3" width="12" height="6"/></g>
<g id="n30_7"><rect class="g" x="276" y="-4" width="13" height="8"/></g>
<g id="n30_8"><rect class="g" x="289" y="-3" width="13" height="6"/></g>
<g id="n30_9"><rect class="c2" x="302" y="-4" width="14" height="8"/></g>
<g id="n30_10"><rect class="c" x="316" y="-3" width="14" height="6"/></g>
<g id="n30_11"><rect class="c2" x="344" y="-4" width="16" height="8"/></g>
<g id="n30_12"><rect class="m" x="360" y="-3" width="13" height="6"/></g>
<g id="n30_13"><rect class="b2" x="373" y="-4" width="13" height="8"/></g>
<g id="n30_14"><rect class="o" x="386" y="-3" width="14" height="6"/></g>
<g id="n30_15"><rect class="b1" x="604" y="-4" width="14" height="8"/></g>
<g id="n30_16"><rect class="b" x="618" y="-3" width="17" height="6"/></g>
</g>
<g transform="translate(0 412.7)">
<g id="n31_1"><rect class="o3" x="146" y="-4" width="23" height="8"/></g>
<g id="n31_2"><rect class="g1" x="193" y="-4" width="17" height="8"/></g>
<g id="n31_3"><rect class="o" x="219" y="-4" width="13" height="8"/></g>
<g id="n31_4"><rect class="o" x="232" y="-3" width="11" height="6"/></g>
<g id="n31_5"><rect class="g2" x="245" y="-4" width="13" height="8"/></g>
<g id="n31_6"><rect class="b" x="258" y="-3" width="12" height="6"/></g>
<g id="n31_7"><rect class="g" x="270" y="-4" width="13" height="8"/></g>
<g id="n31_8"><rect class="g" x="283" y="-3" width="14" height="6"/></g>
<g id="n31_9"><rect class="c2" x="297" y="-4" width="14" height="8"/></g>
<g id="n31_10"><rect class="c" x="311" y="-3" width="14" height="6"/></g>
<g id="n31_11"><rect class="c2" x="337" y="-4" width="14" height="8"/></g>
<g id="n31_12"><rect class="m" x="351" y="-3" width="13" height="6"/></g>
<g id="n31_13"><rect class="b" x="364" y="-3" width="12" height="6"/></g>
<g id="n31_14"><rect class="o" x="376" y="-3" width="17" height="6"/></g>
<g id="n31_15"><rect class="b1" x="598" y="-4" width="14" height="8"/></g>
<g id="n31_16"><rect class="b" x="612" y="-3" width="17" height="6"/></g>
</g>
<g transform="translate(0 424.7)">
<g id="n32_1"><rect class="o3" x="140" y="-4" width="16" height="8"/></g>
<g id="n32_2"><rect class="b" x="156" y="-3" width="17" height="6"/></g>
<g id="n32_3"><rect class="g1" x="187" y="-4" width="16" height="8"/></g>
<g id="n32_4"><rect class="g" x="203" y="-3" width="10" height="6"/></g>
<g id="n32_5"><rect class="o" x="213" y="-4" width="17" height="8"/></g>
<g id="n32_6"><rect class="o" x="230" y="-3" width="10" height="6"/></g>
<g id="n32_7"><rect class="g1" x="240" y="-4" width="13" height="8"/></g>
<g id="n32_8"><rect class="m" x="253" y="-3" width="10" height="6"/></g>
<g id="n32_9"><rect class="g" x="263" y="-4" width="14" height="8"/></g>
<g id="n32_10"><rect class="g" x="277" y="-3" width="12" height="6"/></g>
<g id="n32_11"><rect class="c" x="289" y="-3" width="12" height="6"/></g>
<g id="n32_12"><rect class="o1" x="301" y="-4" width="18" height="8"/></g>
<g id="n32_13"><rect class="c2" x="331" y="-4" width="14" height="8"/></g>
<g id="n32_14"><rect class="c" x="345" y="-3" width="11" height="6"/></g>
<g id="n32_15"><rect class="b1" x="592" y="-4" width="13" height="8"/></g>
<g id="n32_16"><rect class="b" x="605" y="-3" width="17" height="6"/></g>
</g>
<g transform="translate(0 436.8)">
<g id="n33_1"><rect class="o3" x="134" y="-4" width="16" height="8"/></g>
<g id="n33_2"><rect class="o" x="150" y="-3" width="16" height="6"/></g>
<g id="n33_3"><rect class="g1" x="180" y="-4" width="17" height="8"/></g>
<g id="n33_4"><rect class="g" x="197" y="-3" width="11" height="6"/></g>
<g id="n33_5"><rect class="o" x="208" y="-4" width="16" height="8"/></g>
<g id="n33_6"><rect class="o" x="224" y="-3" width="12" height="6"/></g>
<g id="n33_7"><rect class="g2" x="236" y="-4" width="14" height="8"/></g>
<g id="n33_8"><rect class="g" x="250" y="-3" width="12" height="6"/></g>
<g id="n33_9"><rect class="g" x="262" y="-4" width="14" height="8"/></g>
<g id="n33_10"><rect class="g" x="276" y="-3" width="12" height="6"/></g>
<g id="n33_11"><rect class="o1" x="295" y="-4" width="14" height="8"/></g>
<g id="n33_12"><rect class="c" x="309" y="-3" width="11" height="6"/></g>
<g id="n33_13"><rect class="c2" x="320" y="-4" width="18" height="8"/></g>
<g id="n33_14"><rect class="m1" x="345" y="-4" width="18" height="8"/></g>
<g id="n33_15"><rect class="b1" x="585" y="-4" width="14" height="8"/></g>
<g id="n33_16"><rect class="b" x="599" y="-3" width="17" height="6"/></g>
</g>
<g transform="translate(0 448.9)">
<g id="n34_1"><rect class="o3" x="123" y="-4" width="24" height="8"/></g>
<g id="n34_2"><rect class="g" x="147" y="-3" width="14" height="6"/></g>
<g id="n34_3"><rect class="g1" x="174" y="-4" width="17" height="8"/></g>
<g id="n34_4"><rect class="g" x="191" y="-3" width="10" height="6"/></g>
<g id="n34_5"><rect class="o" x="201" y="-4" width="15" height="8"/></g>
<g id="n34_6"><rect class="o" x="216" y="-3" width="12" height="6"/></g>
<g id="n34_7"><rect class="g2" x="228" y="-4" width="12" height="8"/></g>
<g id="n34_8"><rect class="g" x="240" y="-3" width="11" height="6"/></g>
<g id="n34_9"><rect class="g" x="251" y="-4" width="15" height="8"/></g>
<g id="n34_10"><rect class="g" x="266" y="-3" width="14" height="6"/></g>
<g id="n34_11"><rect class="o1" x="289" y="-4" width="12" height="8"/></g>
<g id="n34_12"><rect class="o" x="301" y="-3" width="13" height="6"/></g>
<g id="n34_13"><rect class="c2" x="314" y="-4" width="15" height="8"/></g>
<g id="n34_14"><rect class="m" x="329" y="-3" width="11" height="6"/></g>
<g id="n34_15"><rect class="m2" x="340" y="-4" width="14" height="8"/></g>
<g id="n34_16"><rect class="m" x="354" y="-3" width="14" height="6"/></g>
<g id="n34_17"><rect class="b1" x="579" y="-4" width="14" height="8"/></g>
<g id="n34_18"><rect class="b" x="593" y="-3" width="17" height="6"/></g>
</g>
<g transform="translate(0 461)">
<g id="n35_1"><rect class="o3" x="120" y="-4" width="17" height="8"/></g>
<g id="n35_2"><rect class="o" x="137" y="-3" width="18" height="6"/></g>
<g id="n35_3"><rect class="g1" x="168" y="-4" width="14" height="8"/></g>
<g id="n35_4"><rect class="g" x="182" y="-3" width="11" height="6"/></g>
<g id="n35_5"><rect class="o" x="193" y="-4" width="16" height="8"/></g>
<g id="n35_6"><rect class="o" x="209" y="-3" width="11" height="6"/></g>
<g id="n35_7"><rect class="g2" x="220" y="-4" width="11" height="8"/></g>
<g id="n35_8"><rect class="b" x="231" y="-3" width="14" height="6"/></g>
<g id="n35_9"><rect class="g" x="245" y="-4" width="17" height="8"/></g>
<g id="n35_10"><rect class="g" x="262" y="-3" width="14" height="6"/></g>
<g id="n35_11"><rect class="b2" x="283" y="-4" width="13" height="8"/></g>
<g id="n35_12"><rect class="o" x="296" y="-3" width="10" height="6"/></g>
<g id="n35_13"><rect class="c2" x="306" y="-4" width="15" height="8"/></g>
<g id="n35_14"><rect class="c" x="321" y="-3" width="13" height="6"/></g>
<g id="n35_15"><rect class="m2" x="334" y="-4" width="13" height="8"/></g>
<g id="n35_16"><rect class="m" x="347" y="-3" width="16" height="6"/></g>
<g id="n35_17"><rect class="b1" x="573" y="-4" width="14" height="8"/></g>
<g id="n35_18"><rect class="b" x="587" y="-3" width="16" height="6"/></g>
</g>
<g transform="translate(0 473)">
<g id="n36_1"><rect class="o3" x="108" y="-4" width="24" height="8"/></g>
<g id="n36_2"><rect class="o" x="136" y="-4" width="19" height="8"/></g>
<g id="n36_3"><rect class="g1" x="163" y="-4" width="13" height="8"/></g>
<g id="n36_4"><rect class="g" x="176" y="-3" width="13" height="6"/></g>
<g id="n36_5"><rect class="o" x="187" y="-4" width="18" height="8"/></g>
<g id="n36_6"><rect class="o" x="205" y="-3" width="12" height="6"/></g>
<g id="n36_7"><rect class="g2" x="218" y="-4" width="12" height="8"/></g>
<g id="n36_8"><rect class="c" x="230" y="-3" width="11" height="6"/></g>
<g id="n36_9"><rect class="g" x="241" y="-4" width="14" height="8"/></g>
<g id="n36_10"><rect class="g" x="255" y="-3" width="13" height="6"/></g>
<g id="n36_11"><rect class="b" x="276" y="-3" width="14" height="6"/></g>
<g id="n36_12"><rect class="o" x="290" y="-3" width="9" height="6"/></g>
<g id="n36_13"><rect class="c2" x="299" y="-4" width="16" height="8"/></g>
<g id="n36_14"><rect class="m" x="315" y="-3" width="12" height="6"/></g>
<g id="n36_15"><rect class="o" x="327" y="-3" width="12" height="6"/></g>
<g id="n36_16"><rect class="m" x="340" y="-3" width="16" height="6"/></g>
<g id="n36_17"><rect class="b" x="566" y="-3" width="14" height="6"/></g>
<g id="n36_18"><rect class="c" x="580" y="-3" width="17" height="6"/></g>
</g>
<g transform="translate(0 485.1)">
<g id="n37_1"><rect class="o3" x="101" y="-4" width="17" height="8"/></g>
<g id="n37_2"><rect class="o" x="118" y="-3" width="12" height="6"/></g>
<g id="n37_3"><rect class="o" x="130" y="-4" width="15" height="8"/></g>
<g id="n37_4"><rect class="o" x="145" y="-3" width="11" height="6"/></g>
<g id="n37_5"><rect class="g2" x="157" y="-4" width="11" height="8"/></g>
<g id="n37_6"><rect class="g" x="168" y="-3" width="12" height="6"/></g>
<g id="n37_7"><rect class="o" x="180" y="-4" width="17" height="8"/></g>
<g id="n37_8"><rect class="o" x="197" y="-3" width="11" height="6"/></g>
<g id="n37_9"><rect class="g2" x="208" y="-4" width="12" height="8"/></g>
<g id="n37_10"><rect class="o" x="220" y="-3" width="13" height="6"/></g>
<g id="n37_11"><rect class="g" x="233" y="-4" width="12" height="8"/></g>
<g id="n37_12"><rect class="g" x="245" y="-3" width="17" height="6"/></g>
<g id="n37_13"><rect class="c2" x="293" y="-4" width="14" height="8"/></g>
<g id="n37_14"><rect class="o" x="307" y="-3" width="17" height="6"/></g>
</g>
<g transform="translate(0 497.2)">
<g id="n38_1"><rect class="o3" x="95" y="-4" width="16" height="8"/></g>
<g id="n38_2"><rect class="m" x="111" y="-3" width="12" height="6"/></g>
<g id="n38_3"><rect class="o" x="123" y="-4" width="13" height="8"/></g>
<g id="n38_4"><rect class="o" x="136" y="-3" width="13" height="6"/></g>
<g id="n38_5"><rect class="g2" x="150" y="-4" width="13" height="8"/></g>
<g id="n38_6"><rect class="g" x="163" y="-3" width="12" height="6"/></g>
<g id="n38_7"><rect class="o" x="175" y="-4" width="13" height="8"/></g>
<g id="n38_8"><rect class="o" x="188" y="-3" width="12" height="6"/></g>
<g id="n38_9"><rect class="m2" x="200" y="-4" width="13" height="8"/></g>
<g id="n38_10"><rect class="g" x="213" y="-3" width="12" height="6"/></g>
<g id="n38_11"><rect class="g" x="225" y="-4" width="12" height="8"/></g>
<g id="n38_12"><rect class="g" x="237" y="-3" width="19" height="6"/></g>
<g id="n38_13"><rect class="c2" x="287" y="-4" width="14" height="8"/></g>
<g id="n38_14"><rect class="c" x="301" y="-3" width="17" height="6"/></g>
</g>
<g transform="translate(0 509.2)">
<g id="n39_1"><rect class="o3" x="89" y="-4" width="15" height="8"/></g>
<g id="n39_2"><rect class="g" x="104" y="-3" width="12" height="6"/></g>
<g id="n39_3"><rect class="o" x="116" y="-3" width="14" height="6"/></g>
<g id="n39_4"><rect class="o" x="130" y="-3" width="13" height="6"/></g>
<g id="n39_5"><rect class="g1" x="143" y="-4" width="14" height="8"/></g>
<g id="n39_6"><rect class="g" x="157" y="-3" width="11" height="6"/></g>
<g id="n39_7"><rect class="o" x="168" y="-4" width="14" height="8"/></g>
<g id="n39_8"><rect class="o" x="182" y="-3" width="12" height="6"/></g>
<g id="n39_9"><rect class="m2" x="194" y="-4" width="12" height="8"/></g>
<g id="n39_10"><rect class="o" x="206" y="-3" width="12" height="6"/></g>
<g id="n39_11"><rect class="g" x="218" y="-3" width="13" height="6"/></g>
<g id="n39_12"><rect class="b" x="232" y="-3" width="16" height="6"/></g>
<g id="n39_13"><rect class="c2" x="280" y="-4" width="15" height="8"/></g>
<g id="n39_14"><rect class="c" x="295" y="-3" width="16" height="6"/></g>
</g>
<g transform="translate(0 521.3)">
<g id="n40_1"><rect class="o3" x="79" y="-4" width="18" height="8"/></g>
<g id="n40_2"><rect class="o" x="98" y="-3" width="12" height="6"/></g>
<g id="n40_3"><rect class="o" x="110" y="-3" width="14" height="6"/></g>
<g id="n40_4"><rect class="b" x="124" y="-3" width="13" height="6"/></g>
<g id="n40_5"><rect class="g1" x="138" y="-4" width="12" height="8"/></g>
<g id="n40_6"><rect class="g" x="150" y="-3" width="10" height="6"/></g>
<g id="n40_7"><rect class="o" x="161" y="-4" width="15" height="8"/></g>
<g id="n40_8"><rect class="g" x="176" y="-3" width="10" height="6"/></g>
<g id="n40_9"><rect class="m2" x="187" y="-4" width="12" height="8"/></g>
<g id="n40_10"><rect class="c" x="199" y="-3" width="18" height="6"/></g>
<g id="n40_11"><rect class="c2" x="274" y="-4" width="15" height="8"/></g>
<g id="n40_12"><rect class="m" x="289" y="-3" width="17" height="6"/></g>
</g>
<g transform="translate(0 533.4)">
<g id="n41_1"><rect class="o3" x="76" y="-4" width="16" height="8"/></g>
<g id="n41_2"><rect class="m" x="92" y="-3" width="18" height="6"/></g>
<g id="n41_3"><rect class="g2" x="130" y="-4" width="14" height="8"/></g>
<g id="n41_4"><rect class="g" x="144" y="-3" width="11" height="6"/></g>
<g id="n41_5"><rect class="o" x="155" y="-4" width="13" height="8"/></g>
<g id="n41_6"><rect class="o" x="168" y="-3" width="13" height="6"/></g>
<g id="n41_7"><rect class="m2" x="181" y="-4" width="13" height="8"/></g>
<g id="n41_8"><rect class="o" x="195" y="-3" width="16" height="6"/></g>
<g id="n41_9"><rect class="c2" x="264" y="-4" width="18" height="8"/></g>
<g id="n41_10"><rect class="o" x="282" y="-3" width="17" height="6"/></g>
</g>
<g transform="translate(0 545.4)">
<g id="n42_1"><rect class="o3" x="66" y="-4" width="21" height="8"/></g>
<g id="n42_2"><rect class="m" x="87" y="-3" width="16" height="6"/></g>
<g id="n42_3"><rect class="o" x="124" y="-3" width="13" height="6"/></g>
<g id="n42_4"><rect class="g" x="137" y="-3" width="13" height="6"/></g>
<g id="n42_5"><rect class="o" x="150" y="-3" width="13" height="6"/></g>
<g id="n42_6"><rect class="b" x="163" y="-3" width="13" height="6"/></g>
<g id="n42_7"><rect class="m" x="176" y="-3" width="13" height="6"/></g>
<g id="n42_8"><rect class="g" x="189" y="-3" width="16" height="6"/></g>
<g id="n42_9"><rect class="c2" x="258" y="-4" width="18" height="8"/></g>
<g id="n42_10"><rect class="m" x="276" y="-3" width="16" height="6"/></g>
</g>
<g transform="translate(0 557.5)">
<g id="n43_1"><rect class="o3" x="63" y="-4" width="17" height="8"/></g>
<g id="n43_2"><rect class="b" x="80" y="-3" width="18" height="6"/></g>
<g id="n43_3"><rect class="c2" x="252" y="-4" width="17" height="8"/></g>
<g id="n43_4"><rect class="m" x="269" y="-3" width="17" height="6"/></g>
</g>
<g transform="translate(0 569.6)">
<g id="n44_1"><rect class="o3" x="57" y="-4" width="17" height="8"/></g>
<g id="n44_2"><rect class="m" x="74" y="-3" width="16" height="6"/></g>
<g id="n44_3"><rect class="c2" x="245" y="-4" width="18" height="8"/></g>
<g id="n44_4"><rect class="o" x="263" y="-3" width="17" height="6"/></g>
</g>
<g transform="translate(0 581.7)">
<g id="n45_1"><rect class="o3" x="45" y="-4" width="24" height="8"/></g>
<g id="n45_2"><rect class="c" x="73" y="-4" width="18" height="8"/></g>
<g id="n45_3"><rect class="c2" x="239" y="-4" width="17" height="8"/></g>
<g id="n45_4"><rect class="b" x="256" y="-3" width="18" height="6"/></g>
</g>
<g transform="translate(0 593.7)">
<g id="n46_1"><rect class="o3" x="38" y="-4" width="17" height="8"/></g>
<g id="n46_2"><rect class="m" x="55" y="-3" width="13" height="6"/></g>
<g id="n46_3"><rect class="c2" x="68" y="-4" width="12" height="8"/></g>
<g id="n46_4"><rect class="c" x="80" y="-3" width="16" height="6"/></g>
<g id="n46_5"><rect class="c2" x="233" y="-4" width="17" height="8"/></g>
<g id="n46_6"><rect class="o" x="250" y="-3" width="17" height="6"/></g>
</g>
<g transform="translate(0 605.8)">
<g id="n47_1"><rect class="o3" x="28" y="-4" width="20" height="8"/></g>
<g id="n47_2"><rect class="c" x="48" y="-3" width="13" height="6"/></g>
<g id="n47_3"><rect class="c2" x="62" y="-4" width="11" height="8"/></g>
<g id="n47_4"><rect class="c" x="73" y="-3" width="17" height="6"/></g>
<g id="n47_5"><rect class="c2" x="227" y="-4" width="16" height="8"/></g>
<g id="n47_6"><rect class="m" x="243" y="-3" width="18" height="6"/></g>
</g>
<g transform="translate(0 617.9)">
<g id="n48_1"><rect class="o3" x="22" y="-4" width="21" height="8"/></g>
<g id="n48_2"><rect class="g" x="43" y="-3" width="12" height="6"/></g>
<g id="n48_3"><rect class="c2" x="55" y="-4" width="12" height="8"/></g>
<g id="n48_4"><rect class="c" x="67" y="-3" width="16" height="6"/></g>
<g id="n48_5"><rect class="c2" x="224" y="-4" width="13" height="8"/></g>
<g id="n48_6"><rect class="g" x="237" y="-3" width="17" height="6"/></g>
</g>
<g transform="translate(0 629.9)">
<g id="n49_1"><rect class="o3" x="19" y="-4" width="17" height="8"/></g>
<g id="n49_2"><rect class="m" x="36" y="-3" width="12" height="6"/></g>
<g id="n49_3"><rect class="c2" x="48" y="-4" width="12" height="8"/></g>
<g id="n49_4"><rect class="c" x="60" y="-3" width="17" height="6"/></g>
<g id="n49_5"><rect class="c2" x="218" y="-4" width="13" height="8"/></g>
<g id="n49_6"><rect class="b" x="231" y="-3" width="16" height="6"/></g>
</g>
<g transform="translate(0 642)">
<g id="n50_1"><rect class="o3" x="9" y="-3" width="20" height="6"/></g>
<g id="n50_2"><rect class="c" x="29" y="-3" width="13" height="6"/></g>
<g id="n50_3"><rect class="w" x="42" y="-3" width="12" height="6"/></g>
<g id="n50_4"><rect class="c" x="54" y="-3" width="17" height="6"/></g>
<g id="n50_5"><rect class="c2" x="208" y="-3" width="17" height="6"/></g>
<g id="n50_6"><rect class="m" x="225" y="-3" width="18" height="6"/></g>
</g>
</g>
</svg>
